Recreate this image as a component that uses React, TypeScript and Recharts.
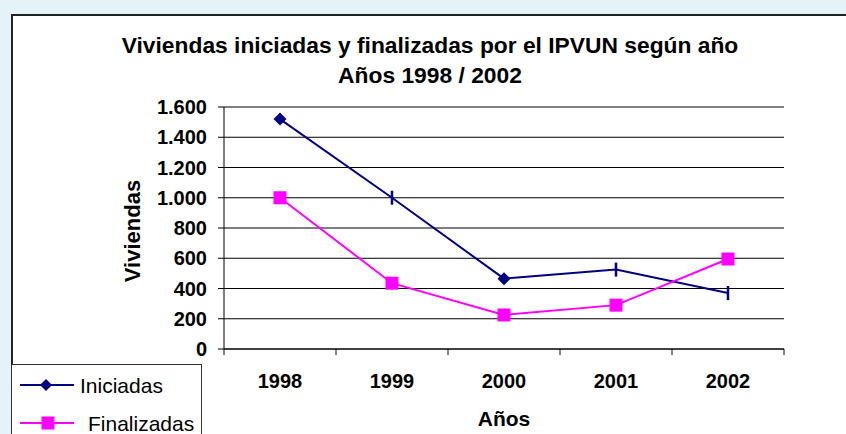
import { LineChart, Line, XAxis, YAxis, CartesianGrid, Legend } from 'recharts';

const anios = ['1998', '1999', '2000', '2001', '2002'];
const series = ['Iniciadas', 'Finalizadas'];
const iniciadas = [1520, 1000, 465, 525, 370];
const finalizadas = [1000, 435, 225, 290, 595];
const ticksY = [0, 200, 400, 600, 800, 1000, 1200, 1400, 1600];
// el gráfico original muestra rombos solo en algunos puntos, en el resto una raya
const marcasIniciadas = ['rombo', 'raya', 'rombo', 'raya', 'raya'];

const data = anios.map((a, i) => ({
  anio: a,
  Iniciadas: iniciadas[i],
  Finalizadas: finalizadas[i],
}));

const W = 846;
const H = 434;
const ANCHO_EJE_Y = 110;
const margen = { top: 107, right: 62, bottom: 10, left: 114 };
const anchoPlot = W - margen.left - margen.right - ANCHO_EJE_Y;
const mediaBanda = anchoPlot / anios.length / 2;

const FUENTE = "Arial, 'Liberation Sans', sans-serif";
const AZUL = '#000080';
const ROSA = '#ff00ff';

const formatoMiles = (v: number) =>
  v >= 1000 ? `${Math.floor(v / 1000)}.${String(v % 1000).padStart(3, '0')}` : String(v);

function TickAnio(props: any) {
  const { x, y, payload, index } = props;
  return (
    <g>
      <line x1={x - mediaBanda} x2={x - mediaBanda} y1={y} y2={y + 6} stroke="#000" />
      {index === anios.length - 1 && (
        <line x1={x + mediaBanda} x2={x + mediaBanda} y1={y} y2={y + 6} stroke="#000" />
      )}
      <text x={x} y={y + 39} textAnchor="middle" fontSize={20} fontWeight="bold" fill="#000">
        {payload.value}
      </text>
    </g>
  );
}

function PuntoIniciada(props: any) {
  const { cx, cy, index } = props;
  if (cx == null || cy == null) return <g />;
  if (marcasIniciadas[index] === 'rombo') {
    const r = 6.5;
    return (
      <polygon
        points={`${cx},${cy - r} ${cx + r},${cy} ${cx},${cy + r} ${cx - r},${cy}`}
        fill={AZUL}
      />
    );
  }
  return <line x1={cx} x2={cx} y1={cy - 7} y2={cy + 7} stroke={AZUL} strokeWidth={2.5} />;
}

function PuntoFinalizada(props: any) {
  const { cx, cy } = props;
  if (cx == null || cy == null) return <g />;
  return <rect x={cx - 6.5} y={cy - 6.5} width={13} height={13} fill={ROSA} />;
}

function EtiquetaY(props: any) {
  const { viewBox } = props;
  const x = viewBox.x + 26;
  const y = viewBox.y + viewBox.height / 2 + 3;
  return (
    <text
      x={x}
      y={y}
      transform={`rotate(-90 ${x} ${y})`}
      textAnchor="middle"
      fontSize={22}
      fontWeight="bold"
      fill="#000"
    >
      Viviendas
    </text>
  );
}

function EtiquetaX(props: any) {
  const { viewBox } = props;
  return (
    <text
      x={viewBox.x + viewBox.width / 2}
      y={viewBox.y + 77}
      textAnchor="middle"
      fontSize={21}
      fontWeight="bold"
      fill="#000"
    >
      Años
    </text>
  );
}

function Leyenda(props: any) {
  const payload = [...(props.payload || [])].sort(
    (a: any, b: any) => series.indexOf(a.value) - series.indexOf(b.value)
  );
  return (
    <div style={{ width: 189, height: 80, border: '1.5px solid #333', background: '#fff' }}>
      <svg width={189} height={80}>
        {payload.map((p: any) => {
          const primera = p.value === series[0];
          const y = primera ? 20 : 58;
          const cx = primera ? 34 : 36;
          return (
            <g key={p.value}>
              <line x1={8} x2={62} y1={y} y2={y} stroke={p.color} strokeWidth={2} />
              {primera ? (
                <polygon
                  points={`${cx},${y - 6} ${cx + 6},${y} ${cx},${y + 6} ${cx - 6},${y}`}
                  fill={p.color}
                />
              ) : (
                <rect x={cx - 6.5} y={y - 6.5} width={13} height={13} fill={p.color} />
              )}
              <text x={primera ? 68 : 76} y={y + 7.5} fontSize={21} fill="#000">
                {p.value}
              </text>
            </g>
          );
        })}
      </svg>
    </div>
  );
}

export default function App() {
  return (
    <div
      style={{
        position: 'absolute',
        left: 0,
        top: 0,
        width: W,
        height: H,
        overflow: 'hidden',
        background: '#e5f3f9',
        fontFamily: FUENTE,
      }}
    >
      <div
        style={{
          position: 'absolute',
          left: 11,
          top: 14,
          width: 900,
          height: 500,
          border: '2px solid #222',
          background: '#fff',
        }}
      />
      <div
        style={{
          position: 'absolute',
          left: 0,
          top: 30,
          width: 860,
          textAlign: 'center',
          fontSize: 22.8,
          lineHeight: '30px',
          fontWeight: 'bold',
          color: '#000',
        }}
      >
        <div>Viviendas iniciadas y finalizadas por el IPVUN según año</div>
        <div>Años 1998 / 2002</div>
      </div>
      <div style={{ position: 'absolute', left: 0, top: 0 }}>
        <LineChart width={W} height={H} data={data} margin={margen}>
          <CartesianGrid vertical={false} stroke="#000" />
          <XAxis
            dataKey="anio"
            height={75}
            padding={{ left: mediaBanda, right: mediaBanda }}
            tickLine={false}
            tickSize={0}
            tickMargin={0}
            axisLine={{ stroke: '#000' }}
            tick={<TickAnio />}
            label={<EtiquetaX />}
          />
          <YAxis
            width={ANCHO_EJE_Y}
            domain={[0, 1600]}
            ticks={ticksY}
            tickFormatter={formatoMiles}
            tickSize={6}
            tickMargin={11}
            tickLine={{ stroke: '#000' }}
            axisLine={{ stroke: '#000' }}
            tick={{ fill: '#000', fontSize: 20, fontWeight: 'bold' }}
            label={<EtiquetaY />}
          />
          <YAxis
            yAxisId="der"
            orientation="right"
            width={0}
            tick={false}
            tickLine={false}
            axisLine={{ stroke: '#808080' }}
          />
          <Legend
            verticalAlign="middle"
            align="center"
            layout="horizontal"
            wrapperStyle={{ left: 11, top: 364, width: 191, height: 80 }}
            content={<Leyenda />}
          />
          <Line
            dataKey="Iniciadas"
            stroke={AZUL}
            strokeWidth={2}
            dot={<PuntoIniciada />}
            activeDot={false}
            isAnimationActive={false}
          />
          <Line
            dataKey="Finalizadas"
            stroke={ROSA}
            strokeWidth={2}
            dot={<PuntoFinalizada />}
            activeDot={false}
            isAnimationActive={false}
          />
        </LineChart>
      </div>
    </div>
  );
}
